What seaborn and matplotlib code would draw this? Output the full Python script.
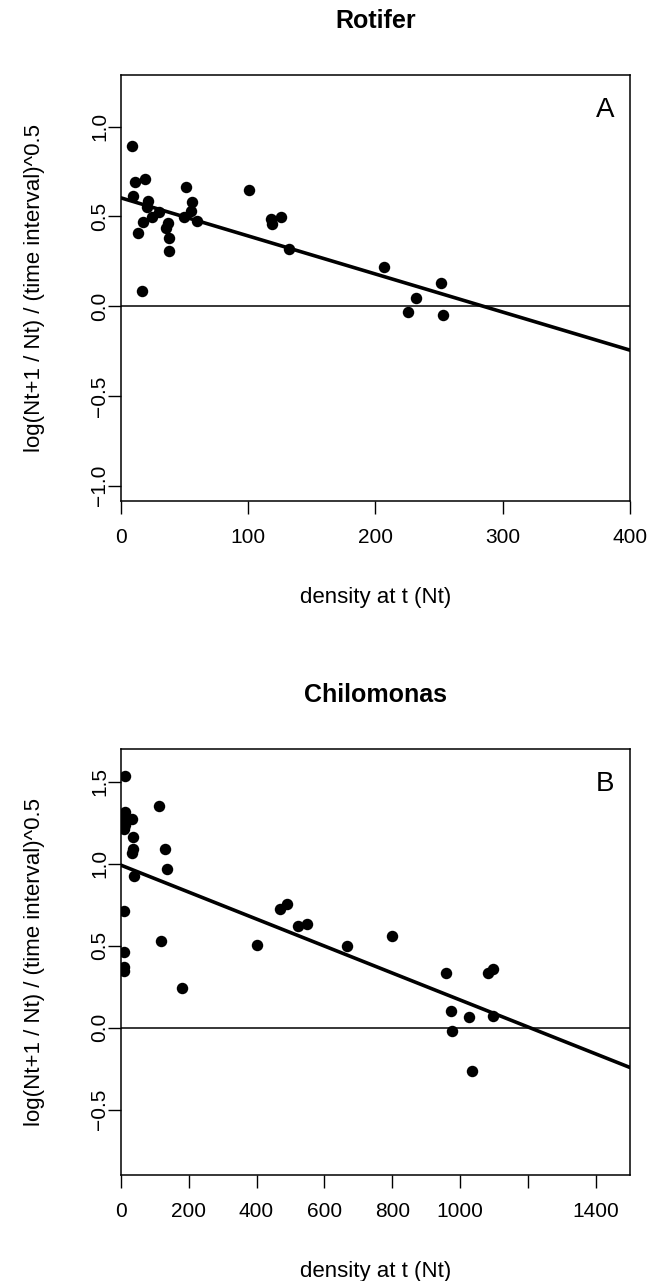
import matplotlib
matplotlib.use("Agg")
import matplotlib.pyplot as plt
import seaborn as sns
import pandas as pd

# --- data ---
rotifer_density = [8.6, 11.3, 19.1, 10.0, 21.2, 20.4, 30.4, 24.3, 17.8, 13.9,
                   37.4, 35.6, 37.9, 37.9, 17.0, 51.3, 55.7, 55.0, 50.0, 60.1,
                   101.1, 117.8, 118.7, 125.9, 131.9, 207.1, 251.6, 232.0, 225.9, 253.4]
rotifer_growth = [0.892, 0.693, 0.708, 0.613, 0.587, 0.554, 0.526, 0.498, 0.470, 0.409,
                  0.465, 0.437, 0.378, 0.307, 0.084, 0.662, 0.578, 0.532, 0.498, 0.476,
                  0.647, 0.484, 0.456, 0.498, 0.318, 0.219, 0.127, 0.046, -0.032, -0.050]
rotifer_fit = (0.604, -0.002122)  # intercept, slope

chilo_density = [12.7, 12.7, 9.8, 34.2, 12.7, 9.8, 37.2, 37.2, 34.2, 40.1,
                 113.7, 130.4, 137.3, 10.7, 118.8, 10.7, 10.7, 10.7, 179.7, 402.4,
                 469.0, 489.0, 522.4, 547.5, 667.3, 798.2, 958.2, 973.3, 975.3, 1025.6,
                 1033.7, 1083.0, 1097.1, 1097.1]
chilo_growth = [1.537, 1.317, 1.277, 1.271, 1.236, 1.210, 1.161, 1.090, 1.067, 0.927,
                1.354, 1.090, 0.968, 0.712, 0.530, 0.463, 0.368, 0.348, 0.240, 0.504,
                0.724, 0.752, 0.620, 0.630, 0.498, 0.559, 0.335, 0.104, -0.020, 0.067,
                -0.262, 0.332, 0.356, 0.073]
chilo_fit = (0.992, -0.000823)

panels = [
    dict(title="Rotifer", tag="A", x=rotifer_density, y=rotifer_growth, fit=rotifer_fit,
         xlim=(0, 400), ylim=(-1.085, 1.288),
         xticks=[0, 100, 200, 300, 400], xlabels=["0", "100", "200", "300", "400"],
         yticks=[-1.0, -0.5, 0.0, 0.5, 1.0]),
    dict(title="Chilomonas", tag="B", x=chilo_density, y=chilo_growth, fit=chilo_fit,
         xlim=(0, 1500), ylim=(-0.898, 1.698),
         xticks=[0, 200, 400, 600, 800, 1000, 1200, 1400],
         xlabels=["0", "200", "400", "600", "800", "1000", "", "1400"],
         yticks=[-0.5, 0.0, 0.5, 1.0, 1.5]),
]

XLAB = "density at t (Nt)"
YLAB = "log(Nt+1 / Nt) / (time interval)^0.5"

sns.set_theme(style="ticks")
plt.rcParams["font.family"] = ["Liberation Sans", "DejaVu Sans"]
plt.rcParams["text.color"] = "black"
plt.rcParams["axes.labelcolor"] = "black"

W, H = 658, 1281
fig = plt.figure(figsize=(W / 100, H / 100), dpi=100)

# axes boxes in pixels: left, right, top, bottom
boxes = [(120.7, 630.0, 75.0, 501.0), (120.7, 630.0, 749.3, 1175.0)]

for p, (l, r, t, b) in zip(panels, boxes):
    ax = fig.add_axes([l / W, 1 - b / H, (r - l) / W, (b - t) / H])
    df = pd.DataFrame({"density": p["x"], "growth": p["y"]})
    ax.axhline(0, color="black", lw=1.1, zorder=1)
    ax.axline((0, p["fit"][0]), slope=p["fit"][1], color="black", lw=2.6, zorder=2)
    sns.scatterplot(data=df, x="density", y="growth", ax=ax, color="black",
                    s=68, linewidth=0, zorder=3)
    ax.set_xlim(*p["xlim"])
    ax.set_ylim(*p["ylim"])
    ax.set_xticks(p["xticks"])
    ax.set_xticklabels(p["xlabels"])
    ax.set_yticks(p["yticks"])
    ax.set_yticklabels([f"{v:.1f}".replace("-", "\u2212") for v in p["yticks"]],
                       rotation=90, va="center")
    ax.tick_params(axis="both", direction="out", length=9.5, width=1.0,
                   labelsize=15, colors="black")
    ax.tick_params(axis="x", pad=10)
    ax.tick_params(axis="y", pad=-1)
    for s in ax.spines.values():
        s.set_visible(True)
        s.set_linewidth(1.1)
        s.set_color("black")
    hpx = b - t
    wpx = r - l
    ax.set_xlabel(XLAB, fontsize=16, va="center", color="black")
    ax.set_ylabel(YLAB, fontsize=16, va="center", color="black")
    ax.xaxis.set_label_coords(0.5, -97 / hpx)
    ax.yaxis.set_label_coords(-86 / wpx, 0.5)
    ax.text(0.5, 1 + 54 / hpx, p["title"], transform=ax.transAxes, ha="center",
            va="center", fontsize=18, fontweight="bold", color="black")
    ax.text(0.951, 1 - 35 / hpx, p["tag"], transform=ax.transAxes, ha="center",
            va="center", fontsize=20, color="black")

fig.savefig("out.png", dpi=100, facecolor="white")
